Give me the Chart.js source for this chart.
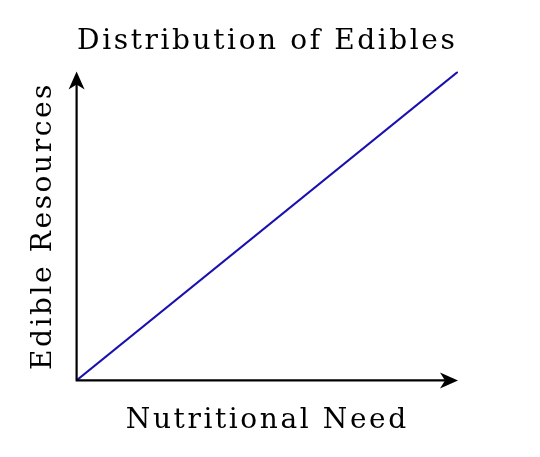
<!DOCTYPE html>
<html lang="en">
<head>
  <meta charset="UTF-8" />
  <title>Distribution of Edibles</title>
  <script src="https://cdn.jsdelivr.net/npm/chart.js"></script>
  <style>
    html, body { margin: 0; padding: 0; background: #ffffff; }
    #wrap { width: 540px; height: 457px; }
  </style>
</head>
<body>
  <div id="wrap"><canvas id="chart"></canvas></div>
  <script>
    // data
    const needValues = [0, 1];
    const resourceValues = [0, 1];
    const titleText = 'Distribution of Edibles';
    const xTitle = 'Nutritional Need';
    const yTitle = 'Edible Resources';

    const labelFont = { family: "'DejaVu Serif', serif", size: 28, weight: 'normal' };

    // wide letter spacing like the original typesetting
    const spacing = {
      id: 'spacing',
      beforeDraw(chart) { chart.ctx.letterSpacing = '2.6px'; }
    };

    // draws both axes with stealth arrow heads
    const arrowAxes = {
      id: 'arrowAxes',
      afterDraw(chart) {
        const { ctx, chartArea: a } = chart;
        ctx.save();
        ctx.strokeStyle = '#000';
        ctx.fillStyle = '#000';
        ctx.lineWidth = 2.2;
        ctx.beginPath();
        ctx.moveTo(a.left, a.bottom);
        ctx.lineTo(a.left, a.top + 10);
        ctx.moveTo(a.left - 1, a.bottom);
        ctx.lineTo(a.right - 10, a.bottom);
        ctx.stroke();
        // up arrow
        ctx.beginPath();
        ctx.moveTo(a.left, a.top);
        ctx.lineTo(a.left + 8, a.top + 18);
        ctx.lineTo(a.left, a.top + 13);
        ctx.lineTo(a.left - 8, a.top + 18);
        ctx.closePath();
        ctx.fill();
        // right arrow
        ctx.beginPath();
        ctx.moveTo(a.right, a.bottom);
        ctx.lineTo(a.right - 18, a.bottom - 8);
        ctx.lineTo(a.right - 13, a.bottom);
        ctx.lineTo(a.right - 18, a.bottom + 8);
        ctx.closePath();
        ctx.fill();
        ctx.restore();
      }
    };

    const hiddenAxis = {
      type: 'linear',
      min: 0,
      max: 1,
      grid: { display: false, drawTicks: false },
      border: { display: false },
      ticks: { display: false }
    };

    new Chart(document.getElementById('chart'), {
      type: 'line',
      data: {
        datasets: [{
          data: needValues.map((x, i) => ({ x: x, y: resourceValues[i] })),
          borderColor: '#1a10b0',
          borderWidth: 2,
          pointRadius: 0,
          tension: 0
        }]
      },
      options: {
        responsive: true,
        maintainAspectRatio: false,
        animation: false,
        layout: { padding: { left: 27, right: 82, top: 8, bottom: 19 } },
        plugins: {
          legend: { display: false },
          tooltip: { enabled: false }
        },
        scales: {
          x: {
            ...hiddenAxis,
            title: {
              display: true,
              text: xTitle,
              color: '#000',
              font: labelFont,
              padding: { top: 24, bottom: 0 }
            }
          },
          // top axis only carries the chart title, centred over the plot
          top: {
            ...hiddenAxis,
            position: 'top',
            display: true,
            title: {
              display: true,
              text: titleText,
              color: '#000',
              font: labelFont,
              padding: { top: 17, bottom: 13 }
            }
          },
          y: {
            ...hiddenAxis,
            title: {
              display: true,
              text: yTitle,
              color: '#000',
              font: labelFont,
              padding: { top: 0, bottom: 16 }
            }
          }
        }
      },
      plugins: [spacing, arrowAxes]
    });
  </script>
</body>
</html>
